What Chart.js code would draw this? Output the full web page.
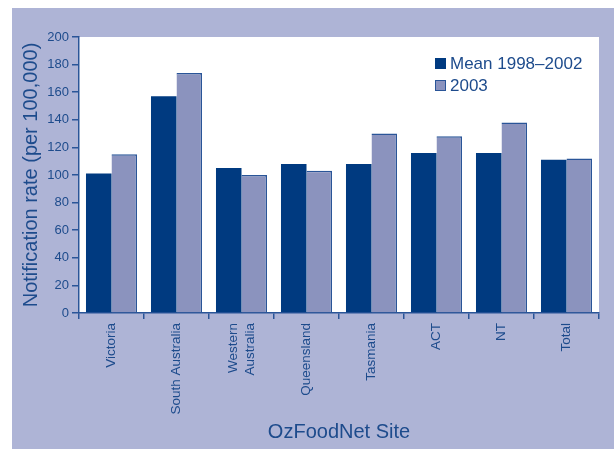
<!DOCTYPE html>
<html>
<head>
<meta charset="utf-8">
<title>OzFoodNet notification rates</title>
<script src="https://cdn.jsdelivr.net/npm/chart.js@4.4.1/dist/chart.umd.min.js"></script>
<style>
  body { margin: 0; background: #fff; }
  canvas { display: block; }
</style>
</head>
<body>
<canvas id="rates" width="614" height="449"></canvas>
<script>
// notification rate per 100,000 by site
var sites = ['Victoria', 'South Australia', ['Western', 'Australia'], 'Queensland', 'Tasmania', 'ACT', 'NT', 'Total'];
var mean9802 = [101, 157, 105, 108, 108, 116, 116, 111];
var rate2003 = [115, 174, 100, 103, 130, 128, 138, 112];
var yTicks = [0, 20, 40, 60, 80, 100, 120, 140, 160, 180, 200];

var navy = '#003a80';
var lilac = '#8b93be';
var ink = '#1d4b8c';
var axisBlue = '#2a5598';
var panel = '#aeb4d6';
var siteFont = { size: 13.5, lineHeight: 1.25 };

Chart.defaults.font.family = '"Liberation Sans", Arial, Helvetica, sans-serif';

// lavender panel behind everything, white plot area
var backdrop = {
    id: 'backdrop',
    beforeDraw: function(chart) {
        var ctx = chart.ctx, a = chart.chartArea;
        ctx.save();
        ctx.fillStyle = '#fff';
        ctx.fillRect(0, 0, chart.width, chart.height);
        ctx.fillStyle = panel;
        ctx.fillRect(12, 8, chart.width - 12, chart.height - 8);
        ctx.fillStyle = '#fff';
        ctx.fillRect(a.left, a.top, a.right - a.left, a.bottom - a.top);
        ctx.restore();

        // centre two-line site names on their tick instead of hanging right
        var lh = siteFont.size * siteFont.lineHeight;
        chart.scales.x.getLabelItems(a).forEach(function(item) {
            if (Array.isArray(item.label) && !item._centred && item.options && item.options.translation) {
                item.options.translation[0] -= (item.label.length - 1) * lh / 2;
                item._centred = true;
            }
        });
    }
};

// legend sits inside the plot, top right
var keyBox = {
    id: 'keyBox',
    afterDatasetsDraw: function(chart) {
        var ctx = chart.ctx, a = chart.chartArea;
        ctx.save();
        ctx.font = '17px "Liberation Sans", Arial, sans-serif';
        ctx.textBaseline = 'middle';
        chart.data.datasets.forEach(function(ds, i) {
            var x = a.right - 164, y = a.top + 21 + i * 22;
            ctx.fillStyle = ds.backgroundColor;
            ctx.fillRect(x, y, 11, 11);
            if (i === 1) {
                ctx.strokeStyle = axisBlue;
                ctx.lineWidth = 1;
                ctx.strokeRect(x + 0.5, y + 0.5, 10, 10);
            }
            ctx.fillStyle = ink;
            ctx.fillText(ds.label, x + 15, y + 6);
        });
        ctx.restore();
    }
};

var ctx = document.getElementById('rates').getContext('2d');
var chart = new Chart(ctx, {
    type: 'bar',
    data: {
        labels: sites,
        datasets: [
            {
                label: 'Mean 1998\u20132002',
                data: mean9802,
                backgroundColor: navy,
                borderWidth: 0
            },
            {
                label: '2003',
                data: rate2003,
                backgroundColor: lilac,
                borderColor: axisBlue,
                borderWidth: { top: 1.5, right: 1.5, left: 0, bottom: 0 },
                borderSkipped: 'bottom'
            }
        ]
    },
    options: {
        responsive: false,
        animation: false,
        categoryPercentage: 0.785,
        barPercentage: 1,
        layout: { padding: { left: 0, top: 37, right: 15, bottom: 0 } },
        plugins: {
            legend: { display: false },
            tooltip: { enabled: false }
        },
        scales: {
            x: {
                grid: { offset: true, drawOnChartArea: false, tickLength: 6, color: axisBlue, lineWidth: 1.5 },
                border: { color: axisBlue, width: 1.5 },
                ticks: { color: ink, font: siteFont, minRotation: 90, maxRotation: 90, autoSkip: false, padding: 4 },
                title: { display: true, text: 'OzFoodNet Site', color: ink, font: { size: 20 }, padding: { top: 0, bottom: 5 } },
                afterFit: function(s) { s.height = 136; }
            },
            y: {
                min: 0,
                max: 200,
                afterBuildTicks: function(s) { s.ticks = yTicks.map(function(v) { return { value: v }; }); },
                ticks: { color: ink, font: { size: 13 }, padding: 3 },
                grid: { drawOnChartArea: false, tickLength: 7, color: axisBlue, lineWidth: 1.5 },
                border: { color: axisBlue, width: 1.5 },
                title: { display: true, text: 'Notification rate (per 100,000)', color: ink, font: { size: 20 }, padding: { top: 19, bottom: 0 } },
                afterFit: function(s) { s.width = 79; }
            }
        }
    },
    plugins: [backdrop, keyBox]
});
</script>
</body>
</html>
